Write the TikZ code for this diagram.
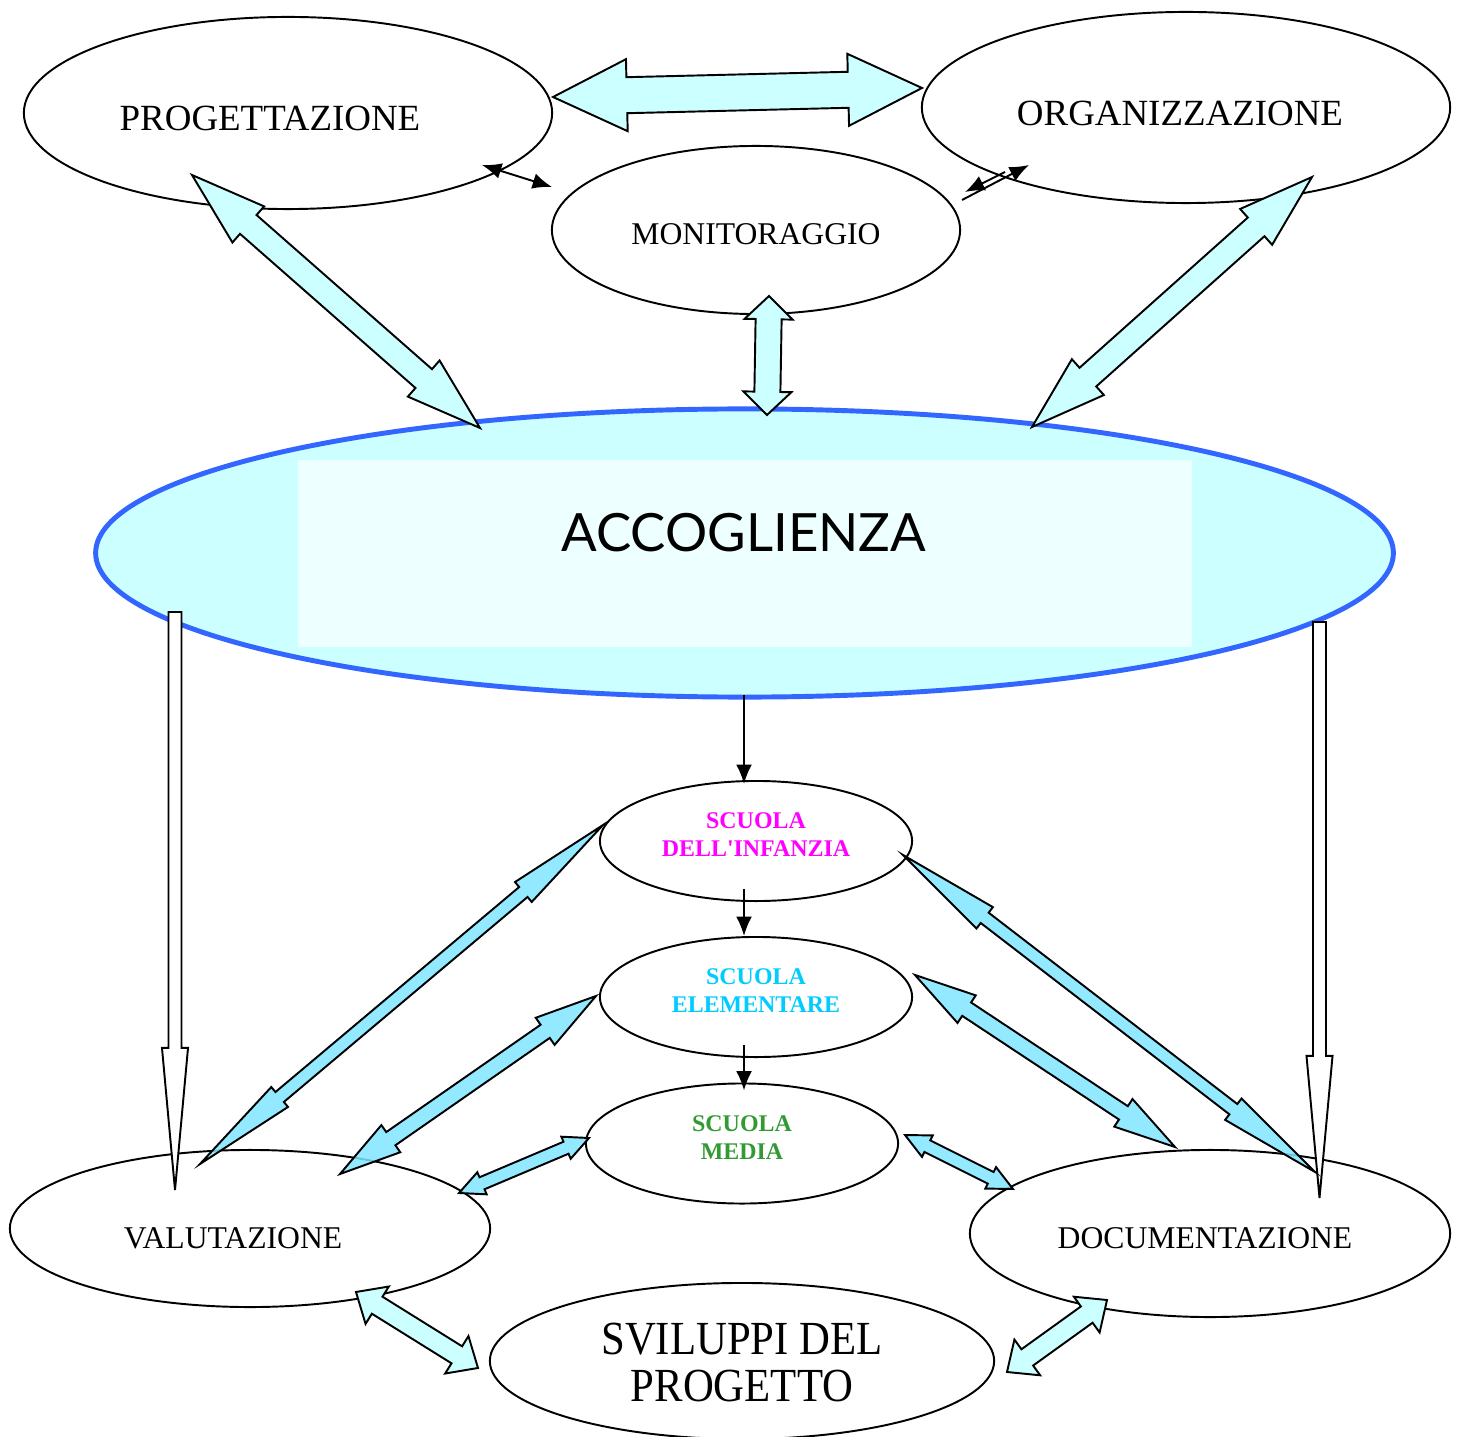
\documentclass[tikz,border=0pt]{standalone}
\usepackage{fontspec}
\setmainfont{Liberation Serif}
\newfontfamily\handfont{Lato}
\usetikzlibrary{calc,arrows.meta,shapes.geometric}

\definecolor{lightcyan}{RGB}{204,255,255}
\definecolor{palecyan}{RGB}{238,255,255}
\definecolor{accborder}{RGB}{51,102,255}
\definecolor{skyarrow}{RGB}{128,229,255}
\definecolor{infmag}{RGB}{255,0,255}
\definecolor{elecyan}{RGB}{0,204,255}
\definecolor{medgreen}{RGB}{51,153,51}

% block arrow with two heads: style, from, to, shaft half width, head half width, head length
\newcommand{\dblarrow}[6]{%
  \path[#1] let \p1=(#2), \p2=(#3), \n1={atan2(\y2-\y1,\x2-\x1)} in
    (\p1) -- ($(\p1)+(\n1:#6)+(\n1+90:#5)$) -- ($(\p1)+(\n1:#6)+(\n1+90:#4)$)
    -- ($(\p2)+(\n1+180:#6)+(\n1+90:#4)$) -- ($(\p2)+(\n1+180:#6)+(\n1+90:#5)$)
    -- (\p2)
    -- ($(\p2)+(\n1+180:#6)+(\n1-90:#5)$) -- ($(\p2)+(\n1+180:#6)+(\n1-90:#4)$)
    -- ($(\p1)+(\n1:#6)+(\n1-90:#4)$) -- ($(\p1)+(\n1:#6)+(\n1-90:#5)$) -- cycle;}
% block arrow with one head
\newcommand{\sglarrow}[6]{%
  \path[#1] let \p1=(#2), \p2=(#3), \n1={atan2(\y2-\y1,\x2-\x1)} in
    ($(\p1)+(\n1+90:#4)$)
    -- ($(\p2)+(\n1+180:#6)+(\n1+90:#4)$) -- ($(\p2)+(\n1+180:#6)+(\n1+90:#5)$)
    -- (\p2)
    -- ($(\p2)+(\n1+180:#6)+(\n1-90:#5)$) -- ($(\p2)+(\n1+180:#6)+(\n1-90:#4)$)
    -- ($(\p1)+(\n1-90:#4)$) -- cycle;}

\begin{document}
\begin{tikzpicture}[x=0.01cm, y=-0.01cm, line width=0.55pt,
    >={Latex[length=5.5pt,width=4.5pt]},
    oval/.style={draw, ellipse, inner sep=0pt},
    bigword/.style={font=\fontsize{10.5}{12}\selectfont},
    word/.style={font=\fontsize{9}{11}\selectfont},
    school/.style={oval, minimum width=3.12cm, minimum height=1.2cm},
    schooltext/.style={align=center, font=\bfseries\fontsize{6.8}{8}\selectfont},
    cyanarrow/.style={draw, fill=lightcyan},
    skyblock/.style={draw, fill=skyarrow, fill opacity=0.85, draw opacity=1},
    hollow/.style={draw, fill=white}]
  \useasboundingbox (0,0) rectangle (1458,1437);

  % central ellipse
  \node[ellipse, draw=accborder, line width=1.4pt, fill=lightcyan,
    minimum width=12.97cm, minimum height=2.88cm] (acc) at (744.5,553) {};
  \fill[palecyan] ($(acc)+(-446.5,-93)$) rectangle ($(acc)+(447.5,94)$);
  \node[font=\handfont\fontsize{15}{18}\selectfont] (acctext) at (744,533) {ACCOGLIENZA};

  \node[oval, minimum width=5.28cm, minimum height=1.92cm,
    label={[bigword, shift={(-18,5)}]center:PROGETTAZIONE}] (prog) at (288,113) {};
  \node[oval, minimum width=5.28cm, minimum height=1.91cm,
    label={[bigword, shift={(-6,6)}]center:ORGANIZZAZIONE}] (org) at (1186,107.5) {};
  \node[oval, minimum width=4.08cm, minimum height=1.68cm,
    label={[word, shift={(0,4)}]center:MONITORAGGIO}] (mon) at (756,230) {};

  \node[school, label={[schooltext, text=infmag, shift={(0,-6)}]center:SCUOLA\\DELL\textquotesingle INFANZIA}]
    (inf) at (756,841) {};
  \node[school, label={[schooltext, text=elecyan, shift={(0,-6)}]center:SCUOLA\\ELEMENTARE}]
    (ele) at (756,997) {};
  \node[school, label={[schooltext, text=medgreen, shift={(0,-6)}]center:SCUOLA\\MEDIA}]
    (med) at (742,1143.5) {};

  \node[oval, minimum width=4.8cm, minimum height=1.57cm,
    label={[word, shift={(-17,9.5)}]center:VALUTAZIONE}] (val) at (250,1228.5) {};
  \node[oval, minimum width=4.8cm, minimum height=1.67cm,
    label={[word, shift={(-5,4.5)}]center:DOCUMENTAZIONE}] (doc) at (1210,1233.5) {};
  \node[oval, minimum width=5.04cm, minimum height=1.56cm,
    label={[font=\fontsize{13.5}{13.4}\selectfont, shift={(0,8)}]center:{\scalebox{0.9}[1]{\begin{tabular}{@{}c@{}}SVILUPPI DEL\\PROGETTO\end{tabular}}}}]
    (svi) at (742,1361) {};

  % upper block arrows
  \dblarrow{cyanarrow}{$(prog)+(265,-16)$}{$(org)+(-264,-19.5)$}{5.12pt}{10.24pt}{21pt}
  \dblarrow{cyanarrow}{$(prog)+(-96,62)$}{$(acc)+(-264.5,-125)$}{3.56pt}{6.83pt}{21.3pt}
  \dblarrow{cyanarrow}{$(org)+(126,69.5)$}{$(acc)+(287.5,-126)$}{3.56pt}{6.83pt}{21.3pt}
  \dblarrow{cyanarrow}{$(mon)+(13,66)$}{$(acc)+(22.5,-138)$}{3.7pt}{6.83pt}{6.6pt}

  % small arrows round the monitoring
  \draw[<->] ($(prog)+(194,52)$) -- ($(mon)+(-204,-43)$);
  \draw[->] ($(org)+(-181,64.5)$) -- ($(mon)+(209,-38)$);
  \draw[->] ($(mon)+(206,-30)$) -- ($(org)+(-157,57.5)$);

  % long hollow arrows
  \sglarrow{hollow}{$(acc)+(-569.5,59)$}{$(val)+(-75,-38.5)$}{1.85pt}{3.7pt}{40.4pt}
  \sglarrow{hollow}{$(acc)+(575,69)$}{$(doc)+(109.5,-35.5)$}{1.85pt}{3.7pt}{40.4pt}

  % school chain
  \draw[->] ($(acc.south)+(-0.5,-5)$) -- ($(inf.north)+(-12,4)$);
  \draw[->] ($(inf)+(-12,48)$) -- ($(ele.north)+(-12,0)$);
  \draw[->] ($(ele)+(-12,48)$) -- ($(med.north)+(2,8)$);

  % schools to evaluation and documentation
  \dblarrow{skyblock}{$(inf)+(-153,-16)$}{$(val)+(-50,-64.5)$}{1.85pt}{3.7pt}{29.6pt}
  \dblarrow{skyblock}{$(ele)+(-160,-1)$}{$(val)+(90,-54.5)$}{2.28pt}{4.7pt}{17.6pt}
  \dblarrow{skyblock}{$(med)+(-153,-5.5)$}{$(val)+(209,-35.5)$}{1.85pt}{3.41pt}{7.1pt}
  \dblarrow{skyblock}{$(inf)+(147,14)$}{$(doc)+(105,-61.5)$}{1.85pt}{3.84pt}{29.3pt}
  \dblarrow{skyblock}{$(ele)+(159,-22)$}{$(doc)+(-35,-86.5)$}{2.28pt}{4.7pt}{17.6pt}
  \dblarrow{skyblock}{$(med)+(163,-8.5)$}{$(doc)+(-197,-44.5)$}{1.85pt}{3.41pt}{7.1pt}

  % towards the developments
  \dblarrow{cyanarrow}{$(val)+(106,63.5)$}{$(svi)+(-264,7)$}{2.85pt}{6.26pt}{7.1pt}
  \dblarrow{cyanarrow}{$(doc)+(-103,66.5)$}{$(svi)+(265,11)$}{2.85pt}{6.26pt}{7.1pt}
\end{tikzpicture}
\end{document}
